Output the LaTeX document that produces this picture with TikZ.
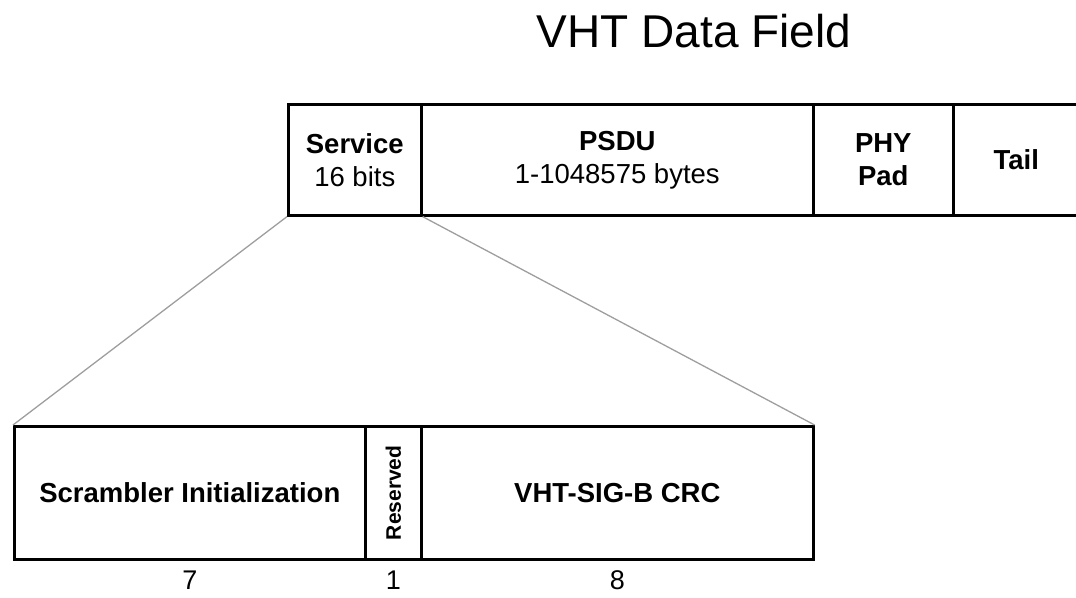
\documentclass[tikz,border=0pt]{standalone}
\usepackage{fontspec}
\setmainfont{Liberation Sans}
\tikzset{
  field/.style={draw,line width=2.6pt,anchor=north west,inner sep=0pt,
    align=center,font=\fontsize{27.5}{33}\selectfont},
  zoomline/.style={draw=black!38,line width=1.3pt},
  bitcount/.style={font=\fontsize{27}{30}\selectfont}
}
\begin{document}
\begin{tikzpicture}[x=1pt,y=-1pt]
  \useasboundingbox (0,0) rectangle (1076,597);
  \clip (0,0) rectangle (1076,597);
  \node[font=\fontsize{46}{50}\selectfont] (title) at (694,31) {VHT Data Field};
  % upper frame
  \node[field,minimum width=133,minimum height=111] (serv) at (287,103)
  {\textbf{Service}\\16 bits};
  \node[field,minimum width=392,minimum height=111] (psdu) at (420,103)
  {\textbf{PSDU}\\1-1048575 bytes};
  \node[field,minimum width=140,minimum height=111] (pad) at (812,103)
  {\textbf{PHY}\\\textbf{Pad}};
  \node[field,minimum width=126,minimum height=111] (tail) at (952,103)
  {\textbf{Tail}};
  % service field bits
  \node[field,minimum width=351,minimum height=133] (scr) at (13,425)
  {\textbf{Scrambler Initialization}};
  \node[field,minimum width=56,minimum height=133] (resv) at (364,425) {};
  \node[font=\fontsize{21}{24}\selectfont\bfseries,rotate=90] (resvtxt) at (resv.center) {Reserved};
  \node[field,minimum width=392,minimum height=133] (crc) at (420,425)
  {\textbf{VHT-SIG-B CRC}};
  \draw[zoomline] (serv.south west) -- (scr.north west);
  \draw[zoomline] (serv.south east) -- (crc.north east);
  \node[bitcount,below=7pt] (nscr) at (scr.south) {7};
  \node[bitcount,below=7pt] (nresv) at (resv.south) {1};
  \node[bitcount,below=7pt] (ncrc) at (crc.south) {8};
\end{tikzpicture}
\end{document}
